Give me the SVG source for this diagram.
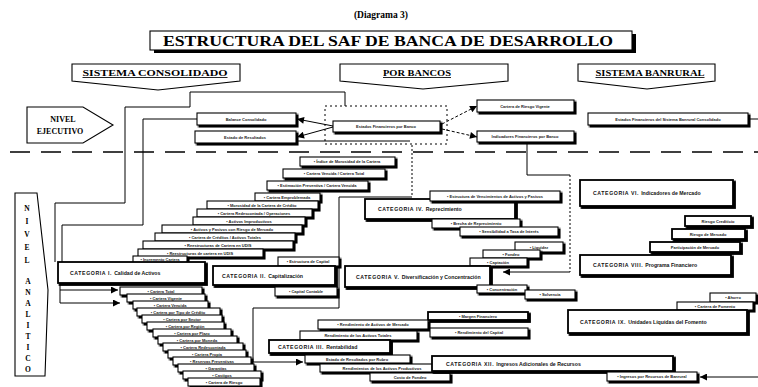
<svg xmlns="http://www.w3.org/2000/svg" width="758" height="387" viewBox="0 0 758 387">
<defs>
<filter id="sh" x="-10%" y="-30%" width="125%" height="180%">
<feOffset in="SourceAlpha" dx="1.6" dy="1.6" result="o"/>
<feMerge><feMergeNode in="o"/><feMergeNode in="SourceGraphic"/></feMerge>
</filter>
<marker id="ah" viewBox="0 0 10 10" refX="10" refY="5" markerWidth="9" markerHeight="7" markerUnits="userSpaceOnUse" orient="auto">
<path d="M0,0 L10,5 L0,10 z" fill="#000"/>
</marker>
<style>
.bx{fill:#fff;stroke:#000;stroke-width:1.1;filter:url(#sh)}
.ct{fill:#fff;stroke:#000;stroke-width:1.8;filter:url(#sh)}
.hd{fill:#fff;stroke:#000;stroke-width:1.1}
.t{font-family:"Liberation Sans",Arial,sans-serif;font-size:4px;font-weight:bold;fill:#222;text-anchor:middle}
.ctt{font-family:"Liberation Sans",Arial,sans-serif;font-size:5.2px;font-weight:bold;fill:#111}
.ser{font-family:"Liberation Serif","Times New Roman",serif;font-weight:bold;fill:#000}
.ln{fill:none;stroke:#000;stroke-width:1}
.dl{fill:none;stroke:#000;stroke-width:1;stroke-dasharray:2 2}
.ar{fill:none;stroke:#000;stroke-width:1;marker-end:url(#ah)}
.ard{fill:none;stroke:#000;stroke-width:1;stroke-dasharray:3 2;marker-end:url(#ah)}
</style>
</defs>
<rect width="758" height="387" fill="#fff"/>

<text class="ser" x="381" y="18" font-size="9.5" text-anchor="middle">(Diagrama 3)</text>

<g id="title">
<rect x="150" y="31" width="482" height="19" fill="#000" transform="translate(4,3)"/>
<rect x="150" y="31" width="482" height="19" class="hd"/>
<text class="ser" x="388" y="46" font-size="15" text-anchor="middle" textLength="450" lengthAdjust="spacingAndGlyphs">ESTRUCTURA DEL SAF DE BANCA DE DESARROLLO</text>
</g>

<g id="h-consolidado">
<path d="M72,64 H240 V81 L158,90 L72,81 Z" class="hd"/>
<text class="ser" x="155" y="76" font-size="8.5" text-anchor="middle" text-decoration="underline" textLength="145" lengthAdjust="spacingAndGlyphs">SISTEMA CONSOLIDADO</text>
</g>
<g id="h-bancos">
<path d="M340,64 H508 V81 L423,89 L340,81 Z" class="hd"/>
<text class="ser" x="417" y="76" font-size="8.5" text-anchor="middle" text-decoration="underline" textLength="68" lengthAdjust="spacingAndGlyphs">POR BANCOS</text>
</g>
<g id="h-banrural">
<path d="M578,64 H715 V81 L647,89 L578,81 Z" class="hd"/>
<text class="ser" x="650" y="76" font-size="8.5" text-anchor="middle" text-decoration="underline" textLength="109" lengthAdjust="spacingAndGlyphs">SISTEMA BANRURAL</text>
</g>

<g id="nivel-ejecutivo">
<path d="M27,107 H83 L113,125 L83,143 H27 Z" class="hd" stroke-width="1.3"/>
<text class="ser" x="63" y="122" font-size="8" text-anchor="middle">NIVEL</text>
<text class="ser" x="60" y="134" font-size="8" text-anchor="middle">EJECUTIVO</text>
</g>

<line x1="10" y1="152" x2="758" y2="152" stroke="#000" stroke-width="1.6" stroke-dasharray="20 11"/>

<g id="nivel-analitico">
<path d="M15,193 H37 L48,290 L45,376 H15 Z" class="hd" stroke-width="1.3"/>
<g class="ser" font-size="7.5" text-anchor="middle">
<text x="27" y="211">N</text><text x="27" y="224">I</text><text x="27" y="237">V</text><text x="27" y="250">E</text><text x="27" y="263">L</text>
<text x="28" y="284">A</text><text x="28" y="295">N</text><text x="28" y="306">A</text><text x="28" y="317">L</text><text x="28" y="328">I</text><text x="28" y="339">T</text><text x="28" y="350">I</text><text x="28" y="361">C</text><text x="28" y="372">O</text>
</g>
</g>

<g id="connectors">
<path class="ln" d="M345,106 V92 H190 V107 H125 V203 H55 V262"/>
<path class="ln" d="M197,119 H143 V225 H62 V262"/>
<path class="ar" d="M333,126 L297,119"/>
<path class="ar" d="M333,127 L297,137"/>
<path class="ard" d="M442,124 L477,106"/>
<path class="ard" d="M442,129 L477,137"/>
<path class="ln" d="M296,141 H410"/>
<path class="ln" d="M748,119 H758"/>
<path class="dl" d="M412,145 V197"/>
<path class="ar" d="M412,197 H339 V308 H253 V362 H303"/>
<path class="ln" d="M527,143 V175 H570"/>
<path class="dl" d="M570,175 V272"/>
<path class="ar" d="M570,272 H503"/>
<path class="ar" d="M60,283 V303 H120"/>
<path class="ar" d="M60,290 H118"/>
<path class="ln" d="M515,203 V217"/>
<path class="ln" d="M392,331 V355"/>
<path class="ar" d="M758,377 H700"/>
</g>

<rect x="325" y="106" width="122" height="38" fill="none" stroke="#000" stroke-width="1" stroke-dasharray="2 3"/>

<g id="e1"><rect class="bx" x="197" y="113" width="99" height="12"/><text class="t" x="246" y="120.5">Balance Consolidado</text></g>
<g id="e2"><rect class="bx" x="195" y="131" width="101" height="12"/><text class="t" x="245" y="138.5">Estado de Resultados</text></g>
<g id="e3"><rect class="bx" x="333" y="121" width="107" height="11"/><text class="t" x="386" y="128">Estados Financieros por Banco</text></g>
<g id="e4"><rect class="bx" x="477" y="100" width="97" height="12"/><text class="t" x="525" y="107.5">Cartera de Riesgo Vigente</text></g>
<g id="e5"><rect class="bx" x="477" y="131" width="97" height="11"/><text class="t" x="525" y="138">Indicadores Financieros por Banco</text></g>
<g id="e6"><rect class="bx" x="588" y="113" width="160" height="12"/><text class="t" x="668" y="120.5">Estados Financieros del Sistema Banrural Consolidado</text></g>

<g id="cat1-up">
<g><rect class="bx" x="300" y="157" width="95" height="9"/><text class="t" x="347" y="163">• Índice de Morosidad de la Cartera</text></g>
<g><rect class="bx" x="283" y="169" width="102" height="9"/><text class="t" x="334" y="175">• Cartera Vencida / Cartera Total</text></g>
<g><rect class="bx" x="267" y="181" width="101" height="9"/><text class="t" x="317" y="187">• Estimación Preventiva / Cartera Vencida</text></g>
<g><rect class="bx" x="255" y="193" width="65" height="8"/><text class="t" x="287" y="198.5">• Cartera Emproblemada</text></g>
<g><rect class="bx" x="207" y="201" width="111" height="8"/><text class="t" x="262" y="206.5">• Morosidad de la Cartera de Crédito</text></g>
<g><rect class="bx" x="197" y="209" width="115" height="8"/><text class="t" x="254" y="214.5">• Cartera Redescontada / Operaciones</text></g>
<g><rect class="bx" x="193" y="217" width="112" height="8"/><text class="t" x="249" y="222.5">• Activos Improductivos</text></g>
<g><rect class="bx" x="162" y="225" width="140" height="8"/><text class="t" x="232" y="230.5">• Activos y Pasivos con Riesgo de Mercado</text></g>
<g><rect class="bx" x="155" y="233" width="140" height="8"/><text class="t" x="225" y="238.5">• Cartera de Créditos / Activos Totales</text></g>
<g><rect class="bx" x="143" y="241" width="150" height="8"/><text class="t" x="218" y="246.5">• Reestructuras de Cartera en UDIS</text></g>
<g><rect class="bx" x="138" y="249" width="125" height="8"/><text class="t" x="200" y="254.5">• Reestructuras de cartera en UDIS</text></g>
<g><rect class="bx" x="133" y="256" width="54" height="7"/><text class="t" x="160" y="261">• Incremento Cartera</text></g>
</g>

<g id="cat1"><rect class="ct" x="58" y="262" width="147" height="21"/><text class="ctt" x="70" y="275" letter-spacing="0.6">CATEGORIA I. <tspan letter-spacing="0">Calidad de Activos</tspan></text></g>

<g id="cat1-down">
<g><rect class="bx" x="120" y="287" width="82" height="8"/><text class="t" x="161" y="292.5">• Cartera Total</text></g>
<g><rect class="bx" x="127" y="294" width="78" height="8"/><text class="t" x="166" y="299.5">• Cartera Vigente</text></g>
<g><rect class="bx" x="133" y="301" width="75" height="8"/><text class="t" x="170" y="306.5">• Cartera Vencida</text></g>
<g><rect class="bx" x="137" y="308" width="83" height="8"/><text class="t" x="178" y="313.5">• Cartera por Tipo de Crédito</text></g>
<g><rect class="bx" x="142" y="315" width="80" height="8"/><text class="t" x="182" y="320.5">• Cartera por Sector</text></g>
<g><rect class="bx" x="147" y="322" width="77" height="8"/><text class="t" x="185" y="327.5">• Cartera por Región</text></g>
<g><rect class="bx" x="153" y="329" width="78" height="8"/><text class="t" x="192" y="334.5">• Cartera por Plazo</text></g>
<g><rect class="bx" x="158" y="336" width="79" height="8"/><text class="t" x="197" y="341.5">• Cartera por Moneda</text></g>
<g><rect class="bx" x="163" y="343" width="80" height="8"/><text class="t" x="203" y="348.5">• Cartera Redescontada</text></g>
<g><rect class="bx" x="168" y="350" width="78" height="8"/><text class="t" x="207" y="355.5">• Cartera Propia</text></g>
<g><rect class="bx" x="173" y="357" width="78" height="8"/><text class="t" x="212" y="362.5">• Reservas Preventivas</text></g>
<g><rect class="bx" x="178" y="364" width="76" height="8"/><text class="t" x="216" y="369.5">• Garantías</text></g>
<g><rect class="bx" x="183" y="371" width="78" height="8"/><text class="t" x="222" y="376.5">• Castigos</text></g>
<g><rect class="bx" x="188" y="378" width="72" height="8"/><text class="t" x="224" y="383.5">• Cartera de Riesgo</text></g>
</g>

<g id="cat2">
<g><rect class="bx" x="278" y="257" width="61" height="9"/><text class="t" x="308" y="263">• Estructura de Capital</text></g>
<rect class="ct" x="213" y="266" width="122" height="19"/><text class="ctt" x="222" y="278" letter-spacing="0.6">CATEGORIA II. <tspan letter-spacing="0">Capitalización</tspan></text>
<g><rect class="bx" x="275" y="287" width="62" height="9"/><text class="t" x="306" y="293">• Capital Contable</text></g>
</g>

<g id="cat4">
<rect class="ct" x="365" y="199" width="150" height="20"/><text class="ctt" x="378" y="211" letter-spacing="0.6">CATEGORIA IV. <tspan letter-spacing="0">Reprecimiento</tspan></text>
<g><rect class="bx" x="430" y="191" width="130" height="10"/><text class="t" x="495" y="197.5">• Estructura de Vencimientos de Activos y Pasivos</text></g>
<g><rect class="bx" x="432" y="219" width="88" height="9"/><text class="t" x="476" y="225">• Brecha de Reprecimiento</text></g>
<g><rect class="bx" x="460" y="227" width="98" height="9"/><text class="t" x="509" y="233">• Sensibilidad a Tasa de Interés</text></g>
</g>

<g id="cat5">
<g><rect class="bx" x="515" y="242" width="48" height="10"/><text class="t" x="539" y="248.5">• Liquidez</text></g>
<g><rect class="bx" x="483" y="250" width="57" height="8"/><text class="t" x="511" y="255.5">• Fondeo</text></g>
<g><rect class="bx" x="470" y="258" width="57" height="8"/><text class="t" x="498" y="263.5">• Captación</text></g>
<rect class="ct" x="345" y="266" width="145" height="21"/><text class="ctt" x="356" y="278.5" letter-spacing="0.6">CATEGORIA V. <tspan letter-spacing="0">Diversificación y Concentración</tspan></text>
<g><rect class="bx" x="477" y="285" width="50" height="8"/><text class="t" x="502" y="290.5">• Concentración</text></g>
<g><rect class="bx" x="525" y="290" width="50" height="9"/><text class="t" x="550" y="296">• Solvencia</text></g>
</g>

<g id="cat3">
<g><rect class="ct" x="428" y="312" width="100" height="8"/><text class="t" x="478" y="317.5">• Margen Financiero</text></g>
<g><rect class="bx" x="318" y="320" width="110" height="9"/><text class="t" x="373" y="326">• Rendimiento de Activos de Mercado</text></g>
<g><rect class="bx" x="430" y="328" width="98" height="9"/><text class="t" x="479" y="334">• Rendimiento del Capital</text></g>
<g><rect class="bx" x="300" y="331" width="117" height="9"/><text class="t" x="358" y="337">Rendimiento de los Activos Totales</text></g>
<rect class="ct" x="269" y="340" width="121" height="13"/><text class="ctt" x="278" y="349" letter-spacing="0.6">CATEGORIA III. <tspan letter-spacing="0">Rentabilidad</tspan></text>
<g><rect class="bx" x="305" y="355" width="105" height="8"/><text class="t" x="357" y="360.5">Estado de Resultados por Rubro</text></g>
<g><rect class="bx" x="320" y="364" width="125" height="8"/><text class="t" x="382" y="369.5">Rendimientos de los Activos Productivos</text></g>
<g><rect class="bx" x="370" y="373" width="80" height="8"/><text class="t" x="410" y="378.5">Costo de Fondeo</text></g>
</g>

<g id="cat6"><rect class="ct" x="580" y="180" width="153" height="26"/><text class="ctt" x="593" y="195" letter-spacing="0.6">CATEGORIA VI. <tspan letter-spacing="0">Indicadores de Mercado</tspan></text></g>
<g id="cat6-sub">
<g><rect class="ct" x="685" y="216" width="66" height="10"/><text class="t" x="718" y="222.5">Riesgo Crediticio</text></g>
<g><rect class="ct" x="672" y="229" width="73" height="10"/><text class="t" x="708" y="235.5">Riesgo de Mercado</text></g>
<g><rect class="ct" x="650" y="242" width="90" height="10"/><text class="t" x="695" y="248.5">Participación de Mercado</text></g>
</g>
<g id="cat8"><rect class="ct" x="580" y="255" width="151" height="20"/><text class="ctt" x="593" y="267" letter-spacing="0.6">CATEGORIA VIII. <tspan letter-spacing="0">Programa Financiero</tspan></text></g>
<g id="cat9">
<g><rect class="bx" x="710" y="293" width="46" height="9"/><text class="t" x="733" y="299">• Ahorro</text></g>
<g><rect class="bx" x="677" y="302" width="76" height="8"/><text class="t" x="715" y="307.5">• Cartera de Fomento</text></g>
<rect class="ct" x="568" y="310" width="179" height="23"/><text class="ctt" x="580" y="324" letter-spacing="0.6">CATEGORIA IX. <tspan letter-spacing="0">Unidades Líquidas del Fomento</tspan></text>
</g>
<g id="cat12">
<rect class="ct" x="432" y="356" width="241" height="15"/><text class="ctt" x="446" y="366" letter-spacing="0.6">CATEGORIA XII. <tspan letter-spacing="0">Ingresos Adicionales de Recursos</tspan></text>
<g><rect class="bx" x="607" y="372" width="90" height="9"/><text class="t" x="652" y="378">• Ingresos por Recursos de Banrural</text></g>
</g>
</svg>
